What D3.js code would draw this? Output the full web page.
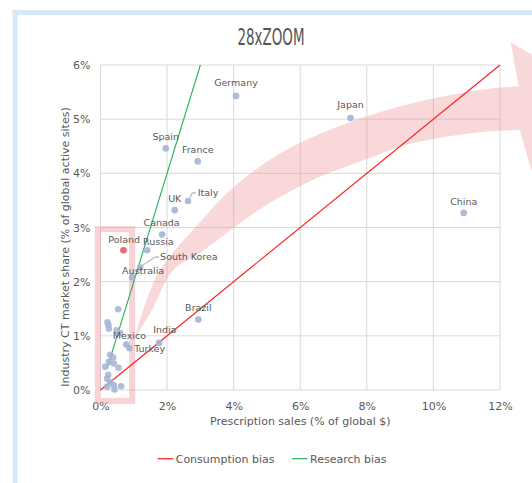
<!DOCTYPE html>
<html>
<head>
<meta charset="utf-8">
<script src="https://cdn.jsdelivr.net/npm/d3@7"></script>
<style>
  html, body { margin: 0; padding: 0; background: #fff; }
  svg { display: block; }
  text { font-family: "DejaVu Sans", Verdana, sans-serif; fill: #595959; }
</style>
</head>
<body>
<svg id="chart" width="532" height="483"></svg>
<script>
// Country positions: prescription sales share vs. industry CT share (both in %)
const countries = ["Germany", "Japan", "Spain", "France", "Italy", "UK", "China", "Canada",
  "Russia", "Poland", "South Korea", "Australia", "Brazil", "India", "Mexico", "Turkey"];
const salesShare = [4.07, 7.51, 1.96, 2.92, 2.63, 2.23, 10.91, 1.85,
  1.40, 0.69, 1.19, 0.95, 2.94, 1.76, 0.77, 0.87];
const ctShare = [5.43, 5.02, 4.46, 4.22, 3.49, 3.32, 3.27, 2.87,
  2.58, 2.58, 2.26, 2.08, 1.30, 0.87, 0.84, 0.77];

// Smaller markets, drawn without labels
const otherSales = [0.53, 0.21, 0.24, 0.25, 0.48, 0.59, 0.29, 0.38, 0.25, 0.40,
  0.14, 0.54, 0.23, 0.20, 0.29, 0.62, 0.20, 0.42, 0.40];
const otherCt = [1.49, 1.25, 1.20, 1.13, 1.10, 1.05, 0.65, 0.60, 0.52, 0.49,
  0.43, 0.41, 0.28, 0.21, 0.14, 0.07, 0.06, 0.01, 0.09];

// Reference lines
const consumptionBias = { x: [0, 12], y: [0, 6] };
const researchBias = { x: [0.2, 3], y: [0.4, 6] };

// Axis ticks
const xTicks = [0, 2, 4, 6, 8, 10, 12];
const yTicks = [0, 1, 2, 3, 4, 5, 6];

// Highlighted country
const highlighted = "Poland";

// Curved trend arrow outline, in axis units (upper edge, head, lower edge back to tail)
const arrowUpperX = [1.04, 1.28, 1.79, 2.99, 3.90, 5.40, 7.41, 9.40, 11.41, 12.56];
const arrowUpperY = [0.96, 1.48, 2.21, 3.10, 3.69, 4.37, 4.93, 5.30, 5.54, 5.61];
const arrowHeadX = [12.32, 15.02, 12.96];
const arrowHeadY = [6.42, 5.44, 4.02];
const arrowLowerX = [12.59, 11.41, 9.40, 7.90, 6.39, 4.89, 3.99, 2.99, 2.18, 1.55, 1.04];
const arrowLowerY = [4.80, 4.76, 4.56, 4.24, 3.88, 3.38, 2.99, 2.53, 2.21, 1.48, 0.96];

// Highlight box around the small markets, in axis units
const boxX = [-0.08, 0.95];
const boxY = [-0.2, 2.97];

const svg = d3.select("#chart");
const W = 532, H = 483;
const plot = { left: 100.5, right: 500, top: 65, bottom: 390 };

const x = d3.scaleLinear().domain([0, 12]).range([plot.left, plot.right]);
const y = d3.scaleLinear().domain([0, 6]).range([plot.bottom, plot.top]);

// Outer frame
svg.append("rect")
  .attr("x", 15).attr("y", 12.5)
  .attr("width", 560).attr("height", 520)
  .attr("fill", "none")
  .attr("stroke", "#d6e9f8")
  .attr("stroke-width", 5);

// Title
svg.append("text")
  .attr("x", 271).attr("y", 45)
  .attr("text-anchor", "middle")
  .attr("textLength", 67)
  .attr("lengthAdjust", "spacingAndGlyphs")
  .style("font-family", "'Liberation Sans Narrow', 'DejaVu Sans Condensed', sans-serif")
  .style("font-size", "23px")
  .style("fill", "#555")
  .text("28xZOOM");

// Gridlines
const grid = svg.append("g");
grid.selectAll("line.gx").data(xTicks).join("line")
  .attr("x1", d => x(d)).attr("x2", d => x(d))
  .attr("y1", plot.top).attr("y2", plot.bottom)
  .attr("stroke", "#d9d9d9").attr("stroke-width", 1);
grid.selectAll("line.gy").data(yTicks).join("line")
  .attr("x1", plot.left).attr("x2", plot.right)
  .attr("y1", d => y(d)).attr("y2", d => y(d))
  .attr("stroke", "#d9d9d9").attr("stroke-width", 1);

// Axes (labels only)
const xAxis = svg.append("g")
  .attr("transform", `translate(0,${plot.bottom})`)
  .call(d3.axisBottom(x).tickValues(xTicks).tickFormat(d => d + "%").tickSize(0).tickPadding(12));
const yAxis = svg.append("g")
  .attr("transform", `translate(${plot.left},0)`)
  .call(d3.axisLeft(y).tickValues(yTicks).tickFormat(d => d + "%").tickSize(0).tickPadding(10));
[xAxis, yAxis].forEach(a => {
  a.select(".domain").remove();
  a.selectAll("text").style("font-size", "11px").style("fill", "#595959")
    .style("font-family", "'DejaVu Sans', Verdana, sans-serif");
});

// Axis titles
svg.append("text")
  .attr("x", (plot.left + plot.right) / 2).attr("y", 425)
  .attr("text-anchor", "middle")
  .style("font-size", "11px")
  .text("Prescription sales (% of global $)");
svg.append("text")
  .attr("transform", "translate(69,247) rotate(-90)")
  .attr("text-anchor", "middle")
  .style("font-size", "11px")
  .text("Industry CT market share (% of global active sites)");

// Pink annotation: trend arrow and highlight box
const pink = "#ee8f96";
const edge = d3.line().x(d => x(d[0])).y(d => y(d[1])).curve(d3.curveCatmullRom.alpha(0.5));
const upper = arrowUpperX.map((v, i) => [v, arrowUpperY[i]]);
const lower = arrowLowerX.map((v, i) => [v, arrowLowerY[i]]);
const head = arrowHeadX.map((v, i) => [v, arrowHeadY[i]]);
const upperPath = edge(upper);
const lowerPath = edge(lower);
const headPath = head.map(p => `L${x(p[0])},${y(p[1])}`).join("");
svg.append("path")
  .attr("d", upperPath + headPath + "L" + lowerPath.slice(1) + "Z")
  .attr("fill", pink).attr("fill-opacity", 0.35);

svg.append("rect")
  .attr("x", x(boxX[0])).attr("y", y(boxY[1]))
  .attr("width", x(boxX[1]) - x(boxX[0]))
  .attr("height", y(boxY[0]) - y(boxY[1]))
  .attr("fill", "none")
  .attr("stroke", pink).attr("stroke-opacity", 0.4)
  .attr("stroke-width", 6);

// Bias lines
svg.append("line")
  .attr("x1", x(consumptionBias.x[0])).attr("y1", y(consumptionBias.y[0]))
  .attr("x2", x(consumptionBias.x[1])).attr("y2", y(consumptionBias.y[1]))
  .attr("stroke", "#ff1a1a").attr("stroke-width", 1.1);
svg.append("line")
  .attr("x1", x(researchBias.x[0])).attr("y1", y(researchBias.y[0]))
  .attr("x2", x(researchBias.x[1])).attr("y2", y(researchBias.y[1]))
  .attr("stroke", "#1fb45a").attr("stroke-width", 1.1);

// Points
const pointFill = "#a3b4d4";
const others = otherSales.map((v, i) => ({ sx: v, ct: otherCt[i] }));
svg.append("g").selectAll("circle").data(others).join("circle")
  .attr("cx", d => x(d.sx)).attr("cy", d => y(d.ct))
  .attr("r", 3.3)
  .attr("fill", pointFill).attr("fill-opacity", 0.85);

const named = countries.map((c, i) => ({ name: c, sx: salesShare[i], ct: ctShare[i] }));
svg.append("g").selectAll("circle").data(named).join("circle")
  .attr("cx", d => x(d.sx)).attr("cy", d => y(d.ct))
  .attr("r", 3.3)
  .attr("fill", d => d.name === highlighted ? "#e8585e" : pointFill)
  .attr("fill-opacity", 0.9);

// Label placement relative to each point
const labelPlace = {
  "Germany": [0, -9.5, "middle"], "Japan": [0, -9.7, "middle"], "China": [0, -8, "middle"],
  "Spain": [0, -8.3, "middle"], "France": [0, -8.6, "middle"], "Italy": [9.7, -5, "start"],
  "UK": [0, -8.6, "middle"], "Canada": [-0.5, -9, "middle"], "Russia": [-4, -5, "start"],
  "Poland": [0.7, -7.3, "middle"], "South Korea": [20, -7.7, "start"],
  "Australia": [11, -3.7, "middle"], "Brazil": [0, -8.6, "middle"], "India": [5.7, -10, "middle"],
  "Mexico": [3.3, -5.4, "middle"], "Turkey": [4.7, 3.7, "start"]
};
svg.append("g").selectAll("text").data(named).join("text")
  .attr("x", d => x(d.sx) + labelPlace[d.name][0])
  .attr("y", d => y(d.ct) + labelPlace[d.name][1])
  .attr("text-anchor", d => labelPlace[d.name][2])
  .style("font-size", "9.5px")
  .text(d => d.name);

// Leader lines for labels set off from their points
const leader = d3.line();
[["Italy", [[2, -3], [4, -8], [8, -8]]], ["South Korea", [[2, -2], [15, -10.5], [19, -10.5]]]]
  .forEach(([name, offs]) => {
    const d = named.find(n => n.name === name);
    svg.append("path")
      .attr("d", leader(offs.map(o => [x(d.sx) + o[0], y(d.ct) + o[1]])))
      .attr("fill", "none").attr("stroke", "#8c8c8c").attr("stroke-width", 0.8);
  });

// Legend
const legendItems = [
  { label: "Consumption bias", color: "#ff1a1a", x: 157.7 },
  { label: "Research bias", color: "#1fb45a", x: 292 }
];
const lg = svg.append("g").selectAll("g").data(legendItems).join("g")
  .attr("transform", d => `translate(${d.x},458.7)`);
lg.append("line").attr("x1", 0).attr("x2", 15.5).attr("y1", 0).attr("y2", 0)
  .attr("stroke", d => d.color).attr("stroke-width", 1.2);
lg.append("text").attr("x", 18).attr("y", 4)
  .style("font-size", "11px")
  .text(d => d.label);
</script>
</body>
</html>
